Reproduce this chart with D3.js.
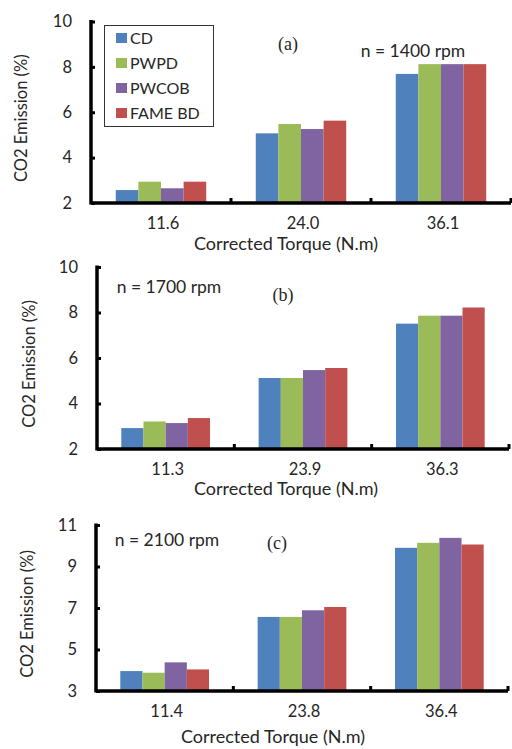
<!DOCTYPE html>
<html>
<head>
<meta charset="utf-8">
<script src="https://cdn.jsdelivr.net/npm/d3@7"></script>
<style>
  body { margin: 0; background: #fff; }
  svg { display: block; }
  text { font-family: Lato, "Liberation Sans", sans-serif; fill: #262626; }
  .serif { font-family: "Liberation Serif", "DejaVu Serif", serif; }
</style>
</head>
<body>
<svg id="chart" width="512" height="749"></svg>
<script>
// Fuel blends, in legend order
const series = ["CD", "PWPD", "PWCOB", "FAME BD"];
const seriesColors = ["#4F81BD", "#9BBB59", "#8064A2", "#C0504D"];

// (a) n = 1400 rpm
const torqueA = ["11.6", "24.0", "36.1"];
const co2A = [
  [2.57, 5.07, 7.69],   // CD
  [2.94, 5.48, 8.12],   // PWPD
  [2.65, 5.26, 8.12],   // PWCOB
  [2.94, 5.63, 8.12]    // FAME BD
];
const ticksA = [2, 4, 6, 8, 10];

// (b) n = 1700 rpm
const torqueB = ["11.3", "23.9", "36.3"];
const co2B = [
  [2.92, 5.12, 7.51],
  [3.21, 5.12, 7.86],
  [3.14, 5.47, 7.86],
  [3.36, 5.56, 8.22]
];
const ticksB = [2, 4, 6, 8, 10];

// (c) n = 2100 rpm
const torqueC = ["11.4", "23.8", "36.4"];
const co2C = [
  [3.96, 6.57, 9.90],
  [3.88, 6.57, 10.14],
  [4.38, 6.89, 10.38],
  [4.04, 7.05, 10.06]
];
const ticksC = [3, 5, 7, 9, 11];

const svg = d3.select("#chart");

function drawPanel(p) {
  const g = svg.append("g");
  const x = d3.scaleBand().domain(p.cats).range([p.x0, p.x1]).padding(0);
  const bw = x.bandwidth();
  const xs = d3.scaleBand().domain(series).range([bw * 0.177, bw * 0.823]).padding(0);
  const y = d3.scaleLinear().domain(p.domain).range([p.yBottom, p.yTop]);

  // bars
  series.forEach((s, i) => {
    g.append("g").selectAll("rect")
      .data(p.values[i].map((v, j) => ({ cat: p.cats[j], v })))
      .join("rect")
      .attr("x", d => x(d.cat) + xs(s))
      .attr("y", d => y(d.v))
      .attr("width", xs.bandwidth())
      .attr("height", d => y(p.domain[0]) - y(d.v))
      .attr("fill", seriesColors[i]);
  });

  // y axis
  const yAxis = d3.axisLeft(y).tickValues(p.ticks).tickSize(-4).tickPadding(19);
  const ya = g.append("g").attr("transform", `translate(${p.x0},0)`).call(yAxis);
  ya.select(".domain").remove();
  ya.selectAll(".tick line").attr("stroke", "#000").attr("stroke-width", 3);
  ya.selectAll(".tick text").attr("font-size", 16.5).attr("fill", "#262626")
    .style("font-family", "Lato, 'Liberation Sans', sans-serif");
  g.append("line")
    .attr("x1", p.x0).attr("x2", p.x0)
    .attr("y1", p.yTop - 1.5).attr("y2", p.yBottom + 1.5)
    .attr("stroke", "#000").attr("stroke-width", 3.5);

  // x axis: baseline, category separators, labels
  g.append("line")
    .attr("x1", p.x0).attr("x2", p.x1)
    .attr("y1", p.yBottom).attr("y2", p.yBottom)
    .attr("stroke", "#000").attr("stroke-width", 3.5);
  const seps = p.cats.slice(1).map(c => x(c)).concat([p.x1]);
  g.selectAll(".sep").data(seps).join("line")
    .attr("x1", d => d).attr("x2", d => d)
    .attr("y1", p.yBottom).attr("y2", p.yBottom - 5)
    .attr("stroke", "#000").attr("stroke-width", 3);
  g.selectAll(".xlab").data(p.cats).join("text")
    .attr("x", d => x(d) + bw / 2 + 2)
    .attr("y", p.yBottom + 20)
    .attr("dy", "0.35em")
    .attr("text-anchor", "middle")
    .attr("font-size", 16.5)
    .text(d => d);

  // axis titles
  g.append("text")
    .attr("transform", `translate(${p.yLabelX},${(p.yTop + p.yBottom) / 2 + 6}) rotate(-90)`)
    .attr("text-anchor", "middle")
    .attr("dy", "0.35em")
    .attr("font-size", 16.5)
    .text("CO2 Emission (%)");
  g.append("text")
    .attr("x", p.xTitleX).attr("y", p.xTitleY)
    .attr("dy", "0.35em")
    .attr("text-anchor", "middle")
    .attr("font-size", 18)
    .text("Corrected Torque (N.m)");

  // panel annotations
  g.append("text").attr("class", "serif")
    .attr("x", p.tagX).attr("y", p.tagY).attr("dy", "0.35em")
    .attr("text-anchor", "middle").attr("font-size", 18)
    .text(p.tag);
  g.append("text")
    .attr("x", p.speedX).attr("y", p.speedY).attr("dy", "0.35em")
    .attr("text-anchor", "middle").attr("font-size", 17.5)
    .text(p.speed);
  return g;
}

const gA = drawPanel({
  cats: torqueA, values: co2A, ticks: ticksA, domain: [2, 10],
  x0: 91, x1: 511, yTop: 21.5, yBottom: 203,
  yLabelX: 21, xTitleX: 286, xTitleY: 244,
  tag: "(a)", tagX: 288, tagY: 44, speed: "n = 1400 rpm", speedX: 413, speedY: 51
});
drawPanel({
  cats: torqueB, values: co2B, ticks: ticksB, domain: [2, 10],
  x0: 97, x1: 509, yTop: 267, yBottom: 449,
  yLabelX: 29, xTitleX: 286, xTitleY: 489,
  tag: "(b)", tagX: 283, tagY: 295, speed: "n = 1700 rpm", speedX: 169, speedY: 287
});
drawPanel({
  cats: torqueC, values: co2C, ticks: ticksC, domain: [3, 11],
  x0: 96, x1: 508, yTop: 525, yBottom: 691,
  yLabelX: 27, xTitleX: 273, xTitleY: 737,
  tag: "(c)", tagX: 277, tagY: 543, speed: "n = 2100 rpm", speedX: 167, speedY: 540
});

// legend inside panel (a)
const legend = gA.append("g");
legend.append("rect")
  .attr("x", 104.5).attr("y", 25.5).attr("width", 109).attr("height", 101)
  .attr("fill", "#fff").attr("stroke", "#333").attr("stroke-width", 1);
const rows = legend.selectAll(".row").data(series).join("g")
  .attr("transform", (d, i) => `translate(116,${38 + i * 25})`);
rows.append("rect")
  .attr("x", 0).attr("y", -5).attr("width", 11).attr("height", 10)
  .attr("fill", (d, i) => seriesColors[i]);
rows.append("text")
  .attr("x", 14).attr("y", 0).attr("dy", "0.35em")
  .attr("font-size", 16)
  .text(d => d);
</script>
</body>
</html>
